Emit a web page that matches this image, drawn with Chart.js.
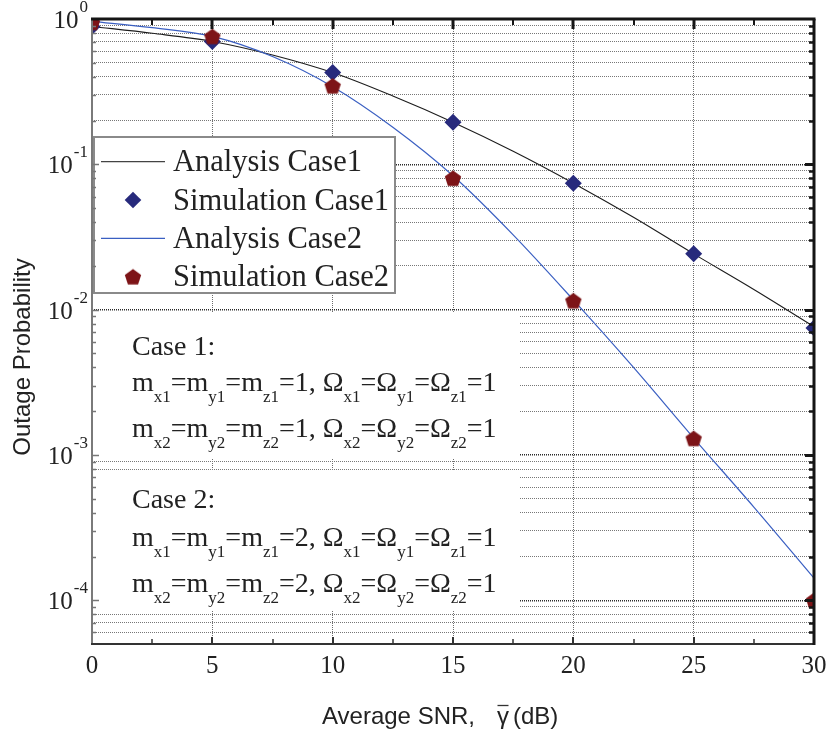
<!DOCTYPE html>
<html><head><meta charset="utf-8">
<script src="https://cdn.jsdelivr.net/npm/chart.js@4.4.1/dist/chart.umd.min.js"></script>
<style>html,body{margin:0;padding:0;background:#fff;} #wrap{width:826px;height:731px;position:relative;}</style>
</head><body><div id="wrap"><canvas id="c" width="826" height="731"></canvas></div>
<script>
// ---- data ----
const snr = [0, 5, 10, 15, 20, 25, 30];
const simCase1 = [0.889, 0.701, 0.428, 0.195, 0.0742, 0.0242, 0.00748];
const simCase2 = [0.947, 0.759, 0.347, 0.0803, 0.01153, 0.0013, 0.0001];
const snrFine = [0, 2.5, 5, 7.5, 10, 12.5, 15, 17.5, 20, 22.5, 25, 27.5, 30];
const anaCase1 = [0.889, 0.798, 0.701, 0.566, 0.428, 0.295, 0.195, 0.123, 0.0742, 0.0432, 0.0242, 0.01377, 0.00764];
const anaCase2 = [0.963, 0.871, 0.759, 0.552, 0.342, 0.180, 0.0834, 0.0327, 0.01166, 0.0040, 0.001307, 0.000438, 0.000142];
const xTickLabels = ['0', '5', '10', '15', '20', '25', '30'];
const yDecades = [1, 0.1, 0.01, 0.001, 0.0001];
const yExponents = ['0', '-1', '-2', '-3', '-4'];
const legendLabels = ['Analysis Case1', 'Simulation Case1', 'Analysis Case2', 'Simulation Case2'];
const xTitle = 'Average SNR,';
const xTitleSym = '\u03B3';
const xTitleUnit = '(dB)';
const yTitle = 'Outage Probability';
const case1Title = 'Case 1:';
const case2Title = 'Case 2:';
const case1Value = '1';
const case2Value = '2';

const SERIF = '"Liberation Serif", "DejaVu Serif", serif';
const SANS = '"Liberation Sans", Arial, sans-serif';
const C_BLACK = '#1c1c1c';
const C_BLUE = '#3a5fc2';
const C_NAVY = '#272a7c';
const C_RED = '#7d1417';

function makePentagon(R, color) {
  const s = Math.ceil(R * 2 + 2);
  const c = document.createElement('canvas');
  c.width = s; c.height = s;
  const g = c.getContext('2d');
  g.fillStyle = color;
  g.beginPath();
  const cx = s / 2, cy = s / 2 + R * 0.095;
  for (let i = 0; i < 5; i++) {
    const a = -Math.PI / 2 + i * 2 * Math.PI / 5;
    const px = cx + R * Math.cos(a), py = cy + R * Math.sin(a);
    if (i) g.lineTo(px, py); else g.moveTo(px, py);
  }
  g.closePath(); g.fill();
  return c;
}
const pent = makePentagon(8.6, C_RED);

function isDecade(v) { const l = Math.log10(v); return Math.abs(l - Math.round(l)) < 1e-9; }

// draws the "m_x1=m_y1=m_z1=v, Ω_x1=Ω_y1=Ω_z1=1" line
function drawParamLine(ctx, x, y, idx, val) {
  const main = '28px ' + SERIF, sub = '17px ' + SERIF;
  const parts = [
    ['m', 0], ['x' + idx, 1], ['=m', 0], ['y' + idx, 1], ['=m', 0], ['z' + idx, 1], ['=' + val + ', \u03A9', 0],
    ['x' + idx, 1], ['=\u03A9', 0], ['y' + idx, 1], ['=\u03A9', 0], ['z' + idx, 1], ['=1', 0]
  ];
  let cx = x;
  for (const [t, s] of parts) {
    ctx.font = s ? sub : main;
    ctx.fillText(t, cx, s ? y + 11 : y);
    cx += ctx.measureText(t).width;
  }
}

const deco = {
  id: 'deco',
  beforeDatasetsDraw(chart) {
    const ctx = chart.ctx;
    ctx.save();
    ctx.fillStyle = '#fff';
    ctx.fillRect(93, 136, 302, 157);
    ctx.fillRect(93, 312, 427, 146);
    ctx.fillRect(93, 471, 427, 140);
    ctx.strokeStyle = '#8a8a8a';
    ctx.lineWidth = 2;
    ctx.strokeRect(94, 137, 301, 156);
    ctx.restore();
  },
  afterDraw(chart) {
    const ctx = chart.ctx;
    const a = chart.chartArea;
    const xs = chart.scales.x, ys = chart.scales.y;
    ctx.save();
    // ---- frame ----
    ctx.lineCap = 'butt';
    ctx.strokeStyle = '#7a7a7a'; ctx.lineWidth = 2;
    ctx.beginPath(); ctx.moveTo(a.left, a.top); ctx.lineTo(a.left, a.bottom); ctx.stroke();
    ctx.strokeStyle = '#333'; ctx.lineWidth = 2;
    ctx.beginPath(); ctx.moveTo(a.left - 1, a.bottom); ctx.lineTo(a.right, a.bottom); ctx.stroke();
    ctx.strokeStyle = '#151515'; ctx.lineWidth = 3;
    ctx.beginPath(); ctx.moveTo(a.left - 1, a.top); ctx.lineTo(a.right + 1.5, a.top); ctx.stroke();
    ctx.beginPath(); ctx.moveTo(a.right, a.top); ctx.lineTo(a.right, a.bottom + 1); ctx.stroke();

    // ---- x ticks (top & bottom, inward) ----
    for (let v = 2.5; v < 30; v += 2.5) {
      const px = Math.round(xs.getPixelForValue(v));
      const major = Math.abs(v % 5) < 1e-9;
      ctx.strokeStyle = '#151515'; ctx.lineWidth = major ? 3 : 2;
      ctx.beginPath(); ctx.moveTo(px, a.top); ctx.lineTo(px, a.top + (major ? 10 : 6)); ctx.stroke();
      ctx.strokeStyle = '#333'; ctx.lineWidth = major ? 2 : 1.5;
      ctx.beginPath(); ctx.moveTo(px, a.bottom); ctx.lineTo(px, a.bottom - (major ? 7 : 5)); ctx.stroke();
    }
    // ---- y ticks (left & right, inward) ----
    for (const t of ys.ticks) {
      const v = t.value;
      if (v <= ys.min * 1.0001 || v >= ys.max * 0.9999) continue;
      const py = Math.round(ys.getPixelForValue(v)) + 0.5;
      const major = isDecade(v);
      ctx.strokeStyle = '#777'; ctx.lineWidth = 1.5;
      ctx.beginPath(); ctx.moveTo(a.left, py); ctx.lineTo(a.left + (major ? 7 : 4), py); ctx.stroke();
      ctx.strokeStyle = '#151515'; ctx.lineWidth = major ? 3 : 2.5;
      ctx.beginPath(); ctx.moveTo(a.right, py); ctx.lineTo(a.right - (major ? 9 : 5), py); ctx.stroke();
    }

    // ---- tick labels ----
    ctx.fillStyle = '#222';
    ctx.font = '25px ' + SERIF;
    ctx.textAlign = 'center'; ctx.textBaseline = 'alphabetic';
    xTickLabels.forEach((lab) => {
      ctx.fillText(lab, xs.getPixelForValue(Number(lab)), 673);
    });
    ctx.textAlign = 'left';
    yDecades.forEach((v, i) => {
      const py = ys.getPixelForValue(v);
      ctx.font = '17px ' + SERIF;
      const ew = ctx.measureText(yExponents[i]).width;
      const ex = 88 - ew;
      ctx.fillText(yExponents[i], ex, py - 7);
      ctx.font = '25px ' + SERIF;
      const bw = ctx.measureText('10').width;
      ctx.fillText('10', ex - bw - 1, py + 9);
    });

    // ---- axis titles ----
    ctx.font = '24px ' + SANS;
    ctx.fillStyle = '#222';
    ctx.textAlign = 'left';
    ctx.fillText(xTitle, 322, 724);
    ctx.fillText(xTitleSym, 497, 724);
    const gw = ctx.measureText(xTitleSym).width;
    ctx.strokeStyle = '#333'; ctx.lineWidth = 1.3;
    ctx.beginPath(); ctx.moveTo(497.5, 705.5); ctx.lineTo(497 + gw - 0.5, 705.5); ctx.stroke();
    ctx.fillText(xTitleUnit, 513, 724);
    ctx.save();
    ctx.translate(30, 357);
    ctx.rotate(-Math.PI / 2);
    ctx.textAlign = 'center';
    ctx.fillText(yTitle, 0, 0);
    ctx.restore();

    // ---- legend ----
    const rows = [161.7, 200, 238.3, 276.7];
    ctx.lineWidth = 1.2;
    ctx.strokeStyle = '#444';
    ctx.beginPath(); ctx.moveTo(101, rows[0]); ctx.lineTo(165, rows[0]); ctx.stroke();
    ctx.strokeStyle = C_BLUE;
    ctx.beginPath(); ctx.moveTo(101, rows[2]); ctx.lineTo(165, rows[2]); ctx.stroke();
    ctx.fillStyle = C_NAVY;
    const r = 8.3, mx = 133;
    ctx.beginPath(); ctx.moveTo(mx - r, rows[1]); ctx.lineTo(mx, rows[1] - r); ctx.lineTo(mx + r, rows[1]); ctx.lineTo(mx, rows[1] + r); ctx.closePath(); ctx.fill();
    ctx.drawImage(pent, mx - pent.width / 2, rows[3] - pent.height / 2);
    ctx.fillStyle = '#222';
    ctx.font = '30.5px ' + SERIF;
    legendLabels.forEach((lab, i) => ctx.fillText(lab, 173, rows[i] + 9.5));

    // ---- case annotations ----
    ctx.font = '28px ' + SERIF;
    ctx.fillText(case1Title, 132, 355);
    drawParamLine(ctx, 132, 391, '1', case1Value);
    drawParamLine(ctx, 132, 437, '2', case1Value);
    ctx.font = '28px ' + SERIF;
    ctx.fillText(case2Title, 132, 508);
    drawParamLine(ctx, 132, 546, '1', case2Value);
    drawParamLine(ctx, 132, 592, '2', case2Value);
    ctx.restore();
  }
};

new Chart(document.getElementById('c'), {
  type: 'line',
  data: {
    datasets: [
      { label: legendLabels[0], data: snrFine.map((x, i) => ({ x, y: anaCase1[i] })), borderColor: C_BLACK, borderWidth: 1.1,
        pointRadius: 0, cubicInterpolationMode: 'monotone', fill: false, clip: 0, order: 4 },
      { label: legendLabels[1], data: snr.map((x, i) => ({ x, y: simCase1[i] })), showLine: false, pointStyle: 'rectRot',
        pointRadius: 8.5, backgroundColor: C_NAVY, borderColor: C_NAVY, borderWidth: 0, clip: 0, order: 2 },
      { label: legendLabels[2], data: snrFine.map((x, i) => ({ x, y: anaCase2[i] })), borderColor: C_BLUE, borderWidth: 1.2,
        pointRadius: 0, cubicInterpolationMode: 'monotone', fill: false, clip: 0, order: 3 },
      { label: legendLabels[3], data: snr.map((x, i) => ({ x, y: simCase2[i] })), showLine: false, pointStyle: pent,
        pointRadius: 8, backgroundColor: C_RED, borderColor: C_RED, borderWidth: 0, clip: 0, order: 1 }
    ]
  },
  options: {
    responsive: false, animation: false, events: [],
    layout: { padding: { left: 92, right: 12, top: 19, bottom: 87 } },
    plugins: { legend: { display: false }, tooltip: { enabled: false } },
    scales: {
      x: {
        type: 'linear', min: 0, max: 30,
        ticks: { display: false, stepSize: 5 },
        grid: { drawTicks: false, lineWidth: 1,
          color: (c) => (c.tick && c.tick.value > 0 && c.tick.value < 30) ? '#6e6e6e' : 'rgba(0,0,0,0)' },
        border: { display: false, dash: [1, 1] }
      },
      y: {
        type: 'logarithmic', min: 5e-5, max: 1,
        ticks: { display: false },
        afterBuildTicks: (scale) => {
          const t = [];
          for (let e = -5; e <= 0; e++) {
            for (let n = 1; n <= 9; n++) {
              const v = n * Math.pow(10, e);
              if (v >= 5e-5 * 0.9999 && v <= 1.0001) t.push({ value: v });
            }
          }
          scale.ticks = t;
        },
        grid: { drawTicks: false,
          lineWidth: (c) => (c.tick && isDecade(c.tick.value)) ? 1.5 : 1,
          color: (c) => {
            if (!c.tick) return 'rgba(0,0,0,0)';
            const v = c.tick.value;
            if (v <= 5e-5 * 1.0001 || v >= 0.9999) return 'rgba(0,0,0,0)';
            return isDecade(v) ? '#2a2a2a' : '#777';
          } },
        border: { display: false, dash: [1, 1] }
      }
    }
  },
  plugins: [deco]
});
</script></body></html>
